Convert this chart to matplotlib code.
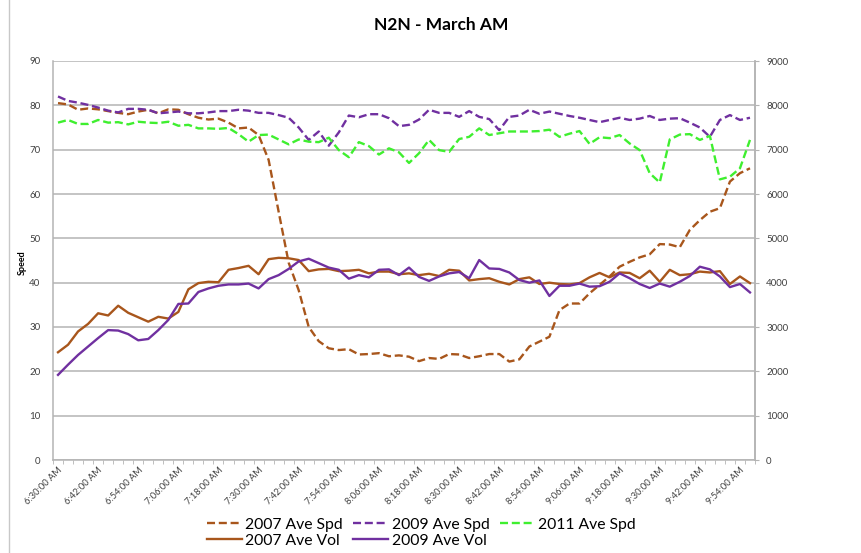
import numpy as np
import matplotlib
matplotlib.use('Agg')
import matplotlib.pyplot as plt
from matplotlib.lines import Line2D

plt.rcParams['font.family'] = ['Lato', 'DejaVu Sans']

# ---------------- data ----------------
tick_labels = ['6:30:00 AM', '6:42:00 AM', '6:54:00 AM', '7:06:00 AM', '7:18:00 AM',
               '7:30:00 AM', '7:42:00 AM', '7:54:00 AM', '8:06:00 AM', '8:18:00 AM',
               '8:30:00 AM', '8:42:00 AM', '8:54:00 AM', '9:06:00 AM', '9:18:00 AM',
               '9:30:00 AM', '9:42:00 AM', '9:54:00 AM']
label_every = 4

spd_2007 = [80.5, 80.2, 79.0, 79.3, 79.1, 78.7, 78.3, 78.0, 78.6, 79.0,
            78.2, 79.1, 79.0, 78.0, 77.2, 76.8, 77.0, 76.1, 74.8, 75.0,
            73.3, 67.7, 56.0, 44.5, 38.3, 30.0, 26.8, 25.2, 24.8, 25.0,
            23.8, 23.9, 24.1, 23.4, 23.6, 23.3, 22.3, 23.0, 22.8, 23.9,
            23.8, 23.0, 23.4, 23.9, 23.9, 22.2, 22.7, 25.6, 26.7, 27.8,
            33.8, 35.3, 35.3, 37.6, 39.5, 41.4, 43.6, 44.7, 45.7, 46.4,
            48.7, 48.6, 48.0, 51.9, 54.1, 56.0, 56.8, 62.8, 64.7, 65.8]

spd_2009 = [82.0, 81.0, 80.6, 80.1, 79.5, 78.8, 78.4, 79.2, 79.2, 79.0,
            78.2, 78.4, 78.6, 78.2, 78.2, 78.4, 78.7, 78.7, 79.0, 78.8,
            78.3, 78.3, 77.8, 77.2, 75.0, 72.2, 74.1, 70.9, 73.9, 77.7,
            77.3, 78.0, 78.0, 77.1, 75.3, 75.6, 76.8, 79.0, 78.3, 78.3,
            77.4, 78.7, 77.4, 76.9, 74.4, 77.4, 77.7, 79.0, 78.1, 78.6,
            78.1, 77.6, 77.2, 76.7, 76.2, 76.7, 77.2, 76.7, 77.0, 77.6,
            76.7, 77.0, 77.1, 76.1, 75.0, 72.9, 76.7, 77.8, 76.7, 77.2]

spd_2011 = [76.1, 76.7, 75.8, 75.8, 76.7, 76.1, 76.2, 75.7, 76.3, 76.1,
            76.0, 76.3, 75.4, 75.6, 74.8, 74.8, 74.7, 74.9, 73.5, 71.8,
            73.3, 73.4, 72.3, 71.2, 72.3, 71.8, 71.7, 72.7, 69.9, 68.3,
            71.7, 70.8, 68.9, 70.3, 69.4, 67.0, 69.2, 72.2, 69.9, 69.5,
            72.4, 72.9, 74.8, 73.3, 73.7, 74.1, 74.1, 74.1, 74.2, 74.5,
            72.9, 73.6, 74.2, 71.3, 72.8, 72.6, 73.3, 71.4, 69.9, 64.7,
            62.6, 72.3, 73.4, 73.5, 72.2, 73.1, 63.3, 63.9, 65.8, 72.2]

vol_2007 = [2430, 2600, 2900, 3070, 3310, 3260, 3480, 3320, 3220, 3120,
            3230, 3190, 3340, 3850, 3990, 4020, 4010, 4290, 4330, 4380,
            4190, 4530, 4560, 4550, 4510, 4260, 4300, 4310, 4260, 4270,
            4290, 4210, 4250, 4250, 4190, 4210, 4170, 4200, 4150, 4290,
            4270, 4050, 4080, 4100, 4020, 3960, 4080, 4120, 3970, 4000,
            3970, 3960, 3990, 4120, 4220, 4120, 4230, 4220, 4100, 4270,
            4020, 4290, 4170, 4190, 4250, 4230, 4260, 3970, 4140, 3990]

vol_2009 = [1920, 2150, 2370, 2560, 2750, 2930, 2920, 2840, 2700, 2730,
            2930, 3160, 3520, 3530, 3790, 3870, 3930, 3960, 3960, 3980,
            3870, 4080, 4170, 4310, 4480, 4540, 4440, 4340, 4290, 4090,
            4170, 4120, 4290, 4300, 4170, 4340, 4130, 4040, 4140, 4210,
            4240, 4100, 4510, 4320, 4310, 4230, 4060, 4000, 4050, 3700,
            3930, 3930, 3980, 3910, 3920, 4020, 4210, 4100, 3970, 3880,
            3980, 3910, 4020, 4150, 4360, 4300, 4140, 3900, 3970, 3780]

# ---------------- style ----------------
c_brown = '#A8561C'
c_purple = '#7030A0'
c_green = '#3FEF2F'
grid_c = '#B4B4B4'
txt_c = '#404040'
W, H = 861, 553

fig = plt.figure(figsize=(W / 100, H / 100), dpi=100)
ax = fig.add_axes([53 / W, 1 - 460 / H, (755 - 53) / W, (460 - 61) / H])
ax2 = ax.twinx()

x = np.arange(len(spd_2007))
lw = 1.7
dash = (3.4, 1.6)

l07s, = ax.plot(x, spd_2007, color=c_brown, lw=lw, dashes=dash, label='2007 Ave Spd')
l09s, = ax.plot(x, spd_2009, color=c_purple, lw=lw, dashes=dash, label='2009 Ave Spd')
l11s, = ax.plot(x, spd_2011, color=c_green, lw=lw, dashes=dash, label='2011 Ave Spd')
l07v, = ax2.plot(x, vol_2007, color=c_brown, lw=lw, label='2007 Ave Vol')
l09v, = ax2.plot(x, vol_2009, color=c_purple, lw=lw, label='2009 Ave Vol')

ax.set_xlim(-0.5, len(x) - 0.5)
ax.set_ylim(0, 90)
ax2.set_ylim(0, 9000)
ax.set_yticks(np.arange(0, 91, 10))
ax2.set_yticks(np.arange(0, 9001, 1000))
ax.yaxis.grid(True, color=grid_c, lw=1.1)
ax.set_axisbelow(True)

ax.set_xticks(x[::label_every])
ax.set_xticklabels(tick_labels, rotation=45, ha='right', va='top',
                   rotation_mode='anchor', fontsize=6.7, color=txt_c)
ax.set_xticks(np.arange(-0.5, len(x), 1), minor=True)
ax.tick_params(axis='x', which='major', length=0, pad=4)
ax.tick_params(axis='x', which='minor', length=3, color=grid_c, direction='out')
ax.tick_params(axis='y', length=0, pad=9, labelsize=7, labelcolor=txt_c)
ax2.tick_params(axis='y', length=3, color=grid_c, pad=5, labelsize=7, labelcolor=txt_c)

ax.spines['top'].set_visible(False)
for s in ['left', 'bottom', 'right']:
    ax.spines[s].set_color(grid_c)
    ax.spines[s].set_linewidth(1.1)
for s in ['left', 'bottom', 'top']:
    ax2.spines[s].set_visible(False)
ax2.spines['right'].set_color(grid_c)
ax2.spines['right'].set_linewidth(1.1)

ax.set_ylabel('Speed', fontsize=6.5, fontweight='bold', color='black',
              va='center')
ax.yaxis.set_label_coords((22 - 53) / (755 - 53), 0.495)

fig.text(441 / W, 1 - 25 / H, 'N2N - March AM', ha='center', va='center',
         fontsize=12.5, fontweight='bold', color='black')

# left chart border
fig.add_artist(Line2D([8.5 / W, 8.5 / W], [0, 1], transform=fig.transFigure,
                      color='#C8C8C8', lw=1))

fig.legend(handles=[l07s, l07v, l09s, l09v, l11s], ncol=3, frameon=False,
           loc='upper left', bbox_to_anchor=(196 / W, 1 - 507 / H),
           fontsize=11.3, handlelength=2.2, handletextpad=0.25,
           columnspacing=0.65, labelspacing=0.1, borderpad=0.2,
           labelcolor='black')

fig.savefig('out.png', dpi=100)
